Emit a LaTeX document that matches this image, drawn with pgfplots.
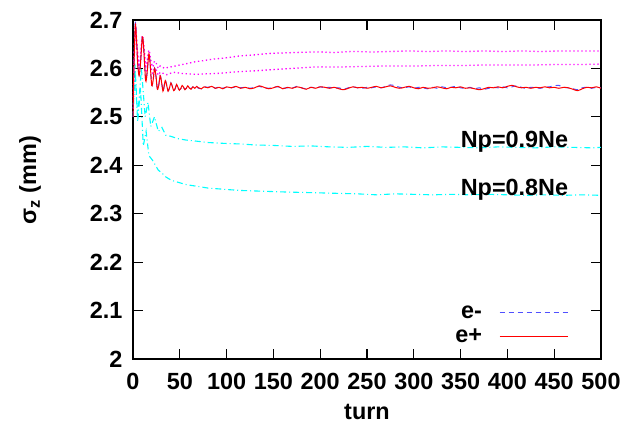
\documentclass[border=0pt]{standalone}
\usepackage{fontspec}
\setmainfont{Liberation Sans}
\usepackage{pgfplots}
\pgfplotsset{compat=1.18}

\newcommand\lbl{\fontsize{23.5}{26}\selectfont\bfseries}
\definecolor{posred}{RGB}{255,0,0}
\definecolor{negblue}{RGB}{80,80,255}
\definecolor{magline}{RGB}{255,0,255}
\definecolor{cyanline}{RGB}{0,255,255}

\begin{document}
\begin{tikzpicture}
\begin{axis}[
  at={(0,0)}, anchor=south west,
  scale only axis, width=468bp, height=339bp,
  xmin=0, xmax=500, ymin=2, ymax=2.7,
  xtick={0,50,...,500},
  ytick={2,2.1,2.2,2.3,2.4,2.5,2.6,2.7},
  yticklabels={2,2.1,2.2,2.3,2.4,2.5,2.6,2.7},
  tick align=inside,
  major tick length=10bp,
  tick style={line width=1.2bp, black},
  axis line style={line width=1.6bp},
  /pgf/number format/assume math mode=true,
  tick label style={font=\lbl},
  xticklabel style={yshift=-11bp},
  yticklabel style={xshift=-7bp},
  xlabel={turn},
  ylabel={σ\textsubscript{z} (mm)},
  label style={font=\lbl},
  xlabel style={at={(axis description cs:0.5,-0.155)}, anchor=center},
  ylabel style={at={(axis description cs:-0.22,0.528)}, anchor=center},
  legend plot pos=right,
  legend cell align=right,
  legend image code/.code={\draw[#1] (0bp,0bp) -- (68bp,0bp);},
  legend style={draw=none, fill=none, font=\lbl, inner sep=0pt,
    at={(rel axis cs:0.93,0.1),}, anchor=east,
    row sep=5bp, column sep=15bp},
]

% Np = 0.8 Ne
\addplot[cyanline, line width=1.1bp, dash pattern=on 6bp off 3bp on 1bp off 3bp, forget plot] coordinates {
(0,2.50)(2,2.60)(5,2.49)(8,2.56)(11,2.44)(14,2.47)(17,2.42)(21,2.41)(24,2.40)(27,2.39)
(31,2.384)(35,2.376)(41,2.369)(48,2.365)(57,2.360)(67,2.357)(80,2.353)(100,2.350)
(115,2.348)(130,2.347)(145,2.346)(160,2.345)(180,2.344)(200,2.343)(220,2.342)(240,2.341)
(260,2.339)(280,2.341)(300,2.340)(320,2.339)(340,2.340)(360,2.339)(380,2.340)(400,2.339)
(420,2.338)(440,2.339)(460,2.338)(480,2.339)(500,2.338)};

% Np = 0.9 Ne
\addplot[cyanline, line width=1.1bp, dash pattern=on 6bp off 3bp on 1bp off 3bp, forget plot] coordinates {
(0,2.50)(2,2.61)(5,2.50)(9,2.60)(13,2.50)(16,2.53)(19,2.48)(23,2.50)(27,2.470)(31,2.478)
(35,2.462)(40,2.460)(48,2.455)(57,2.452)(67,2.450)(80,2.447)(90,2.446)(100,2.445)
(115,2.444)(130,2.442)(150,2.441)(170,2.439)(190,2.440)(210,2.438)(230,2.437)(250,2.439)
(270,2.437)(290,2.438)(310,2.436)(330,2.438)(350,2.437)(370,2.436)(390,2.438)(410,2.437)
(430,2.436)(450,2.438)(470,2.437)(490,2.436)(500,2.437)};

% dotted pair
\addplot[magline, line width=1.3bp, dash pattern=on 1.3bp off 2.7bp, smooth, forget plot] coordinates {
(0,2.50)(1,2.60)(2.5,2.69)(4,2.655)(6.5,2.600)(8,2.625)(10,2.668)(12,2.640)(13.5,2.605)
(15,2.615)(17,2.638)(19,2.618)(21,2.603)(23,2.615)(25,2.610)(27,2.600)(29,2.605)(31,2.603)
(34,2.600)(37,2.602)(40,2.603)(45,2.605)(50,2.607)(55,2.609)(60,2.611)(67,2.614)(75,2.616)
(85,2.619)(100,2.622)(115,2.626)(130,2.628)(146,2.631)(160,2.632)(175,2.633)(196,2.634)
(215,2.633)(235,2.635)(255,2.634)(275,2.635)(295,2.636)(315,2.635)(335,2.636)(355,2.635)
(375,2.636)(395,2.635)(415,2.636)(435,2.635)(455,2.636)(475,2.636)(500,2.636)};
\addplot[magline, line width=1.3bp, dash pattern=on 1.3bp off 2.7bp, smooth, forget plot] coordinates {
(0,2.50)(1,2.60)(2.5,2.685)(4,2.650)(6.5,2.592)(8,2.615)(10,2.660)(12,2.630)(13.5,2.592)
(15,2.602)(17,2.625)(19,2.605)(21,2.590)(23,2.600)(25,2.596)(27,2.586)(29,2.592)(32,2.590)
(36,2.587)(40,2.590)(45,2.592)(50,2.590)(57,2.589)(67,2.588)(80,2.589)(93,2.590)(110,2.593)
(130,2.595)(146,2.597)(170,2.600)(196,2.603)(220,2.603)(245,2.604)(270,2.605)(300,2.605)
(325,2.606)(350,2.606)(375,2.607)(400,2.607)(425,2.607)(450,2.608)(475,2.608)(500,2.609)};

% e-
\addplot[draw=negblue, line width=1bp, dash pattern=on 5bp off 4bp, smooth] coordinates {
(0,2.50)(1,2.61)(2.5,2.695)(4,2.650)(5,2.61)(6.5,2.587)(8,2.612)(10,2.667)(11.5,2.640)
(13.5,2.577)(15,2.590)(17,2.631)(18.5,2.605)(20,2.566)(21.5,2.575)(23,2.601)(24.5,2.585)
(26,2.558)(27.5,2.565)(29,2.585)(30.5,2.572)(32,2.554)(33,2.560)(34.5,2.575)(36,2.565)
(37.5,2.554)(39,2.560)(40.5,2.570)(42,2.563)(43.5,2.555)(45,2.558)(46.5,2.566)(48,2.561)
(49.5,2.556)(51,2.558)(52.5,2.564)(54,2.561)(55.5,2.557)(57,2.559)(58.5,2.563)(60,2.560)
(62,2.558)(64,2.562)(66,2.560)(68,2.562)(70,2.559)(73,2.558)(76,2.562)(80,2.561)(84,2.563)
(88,2.559)(92,2.562)(96,2.559)(100,2.561)(105,2.560)(110,2.562)(115,2.560)(120,2.561)
(125,2.559)(130,2.561)(135,2.563)(140,2.560)(145,2.559)(150,2.561)(155,2.562)(160,2.559)
(165,2.560)(170,2.559)(175,2.563)(180,2.560)(185,2.558)(190,2.561)(195,2.560)(200,2.562)
(205,2.560)(210,2.561)(215,2.559)(220,2.560)(225,2.557)(230,2.560)(235,2.562)(240,2.560)
(245,2.559)(250,2.561)(255,2.560)(260,2.562)(265,2.560)(270,2.563)(275,2.566)(280,2.564)
(285,2.561)(290,2.560)(295,2.562)(300,2.559)(305,2.561)(310,2.560)(315,2.558)(320,2.561)
(325,2.559)(330,2.562)(335,2.560)(340,2.561)(345,2.563)(350,2.560)(355,2.559)(360,2.561)
(365,2.558)(370,2.560)(375,2.557)(380,2.559)(385,2.561)(390,2.560)(395,2.562)(400,2.560)
(405,2.562)(410,2.564)(415,2.561)(420,2.559)(425,2.561)(430,2.560)(435,2.559)(440,2.561)
(445,2.562)(450,2.564)(455,2.565)(460,2.561)(465,2.560)(470,2.558)(475,2.556)(480,2.560)
(485,2.561)(490,2.559)(495,2.561)(500,2.560)};
\addlegendentry{e-}

% e+
\addplot[draw=posred, line width=1bp, solid, smooth] coordinates {
(0,2.50)(1,2.60)(2.5,2.690)(4,2.650)(5,2.61)(6.5,2.585)(8,2.610)(10,2.665)(11.5,2.640)
(13.5,2.575)(15,2.590)(17,2.630)(18.5,2.605)(20,2.565)(21.5,2.575)(23,2.600)(24.5,2.585)
(26,2.557)(27.5,2.565)(29,2.585)(30.5,2.572)(32,2.553)(33,2.560)(34.5,2.575)(36,2.565)
(37.5,2.553)(39,2.560)(40.5,2.570)(42,2.563)(43.5,2.554)(45,2.558)(46.5,2.567)(48,2.561)
(49.5,2.555)(51,2.558)(52.5,2.565)(54,2.561)(55.5,2.556)(57,2.559)(58.5,2.564)(60,2.560)
(62,2.557)(64,2.562)(66,2.559)(68,2.563)(70,2.560)(73,2.558)(76,2.562)(80,2.560)(84,2.563)
(88,2.559)(92,2.561)(96,2.558)(100,2.562)(105,2.560)(110,2.563)(115,2.559)(120,2.561)
(125,2.558)(130,2.560)(135,2.564)(140,2.561)(145,2.558)(150,2.560)(155,2.563)(160,2.558)
(165,2.561)(170,2.559)(175,2.562)(180,2.560)(185,2.557)(190,2.561)(195,2.559)(200,2.562)
(205,2.561)(210,2.559)(215,2.561)(220,2.558)(225,2.556)(230,2.559)(235,2.562)(240,2.560)
(245,2.561)(250,2.559)(255,2.561)(260,2.563)(265,2.560)(270,2.562)(275,2.564)(280,2.561)
(285,2.559)(290,2.561)(295,2.563)(300,2.560)(305,2.558)(310,2.561)(315,2.559)(320,2.560)
(325,2.562)(330,2.560)(335,2.558)(340,2.561)(345,2.560)(350,2.562)(355,2.559)(360,2.560)
(365,2.558)(370,2.556)(375,2.558)(380,2.561)(385,2.560)(390,2.562)(395,2.560)(400,2.563)
(405,2.565)(410,2.562)(415,2.560)(420,2.561)(425,2.559)(430,2.561)(435,2.560)(440,2.562)
(445,2.560)(450,2.561)(455,2.559)(460,2.561)(465,2.560)(470,2.557)(475,2.554)(480,2.558)
(485,2.561)(490,2.560)(495,2.562)(500,2.559)};
\addlegendentry{e+}

\node[font=\lbl, anchor=base west, inner sep=0pt] at (axis cs:350,2.437) {Np=0.9Ne};
\node[font=\lbl, anchor=base west, inner sep=0pt] at (axis cs:350,2.338) {Np=0.8Ne};
\end{axis}
\pgfresetboundingbox
\path (-133bp,-75bp) rectangle (505bp,359bp);
\end{tikzpicture}
\end{document}
